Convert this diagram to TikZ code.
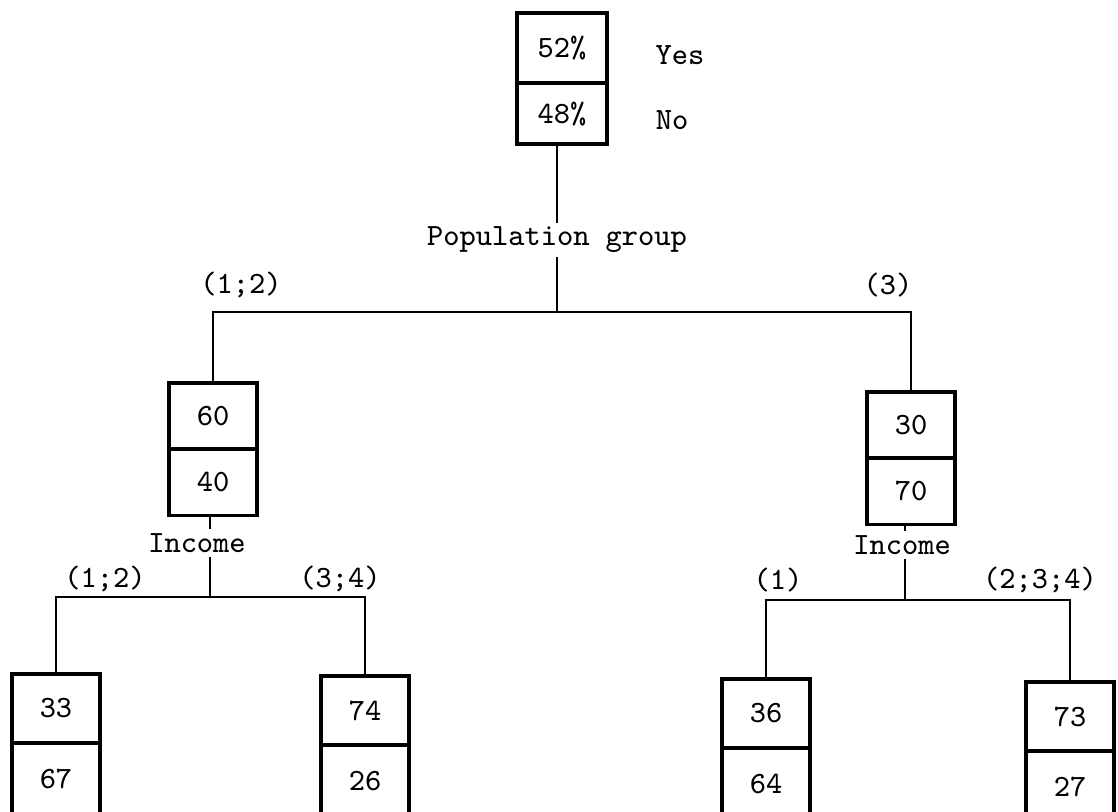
\documentclass[tikz,border=0pt]{standalone}
\usepackage{tikz}
\usetikzlibrary{positioning}

\newcommand{\tyfont}{\fontsize{8.8}{10}\selectfont\ttfamily}

\tikzset{
  cell/.style={draw, line width=0.9pt, minimum width=0.88cm, minimum height=0.66cm,
               inner sep=0pt, outer sep=0pt, font=\tyfont},
  lbl/.style={font=\tyfont, inner sep=1pt},
  link/.style={line width=0.7pt}
}

\begin{document}
\begin{tikzpicture}[x=0.01cm, y=-0.01cm]
    % Frame of the page
    \useasboundingbox (0,0) rectangle (1118,812);

    % Root box
    \node[cell, anchor=north, minimum width=0.9cm, minimum height=0.70cm] (topY) at (562,13) {52\%};
    \node[cell, below=0pt of topY, minimum width=0.9cm, minimum height=0.61cm] (topN) {48\%};
    \node[lbl] (yes) at (680,55) {Yes};
    \node[lbl] (no) at (672,120) {No};

    % First split
    \node[lbl] (pop) at (557,240) {Population group};
    \coordinate (popj) at (557,312);

    \node[cell, anchor=north] (Lhi) at (213,383) {60};
    \node[cell, below=0pt of Lhi] (Llo) {40};
    \node[cell, anchor=north] (Rhi) at (911,392) {30};
    \node[cell, below=0pt of Rhi] (Rlo) {70};

    \draw[link] (topN.south -| pop.north) -- (pop.north);
    \draw[link] (pop.south) -- (popj);
    \draw[link] (Lhi.north) |- (popj) -| (Rhi.north);
    \node[lbl] at (241,285) {(1;2)};
    \node[lbl] at (888,285) {(3)};

    % Second split (income)
    \node[lbl] (incL) at (197,543) {Income};
    \node[lbl] (incR) at (902,545) {Income};
    \coordinate (jL) at (210,597);
    \coordinate (jR) at (905,600);

    % Leaf boxes
    \foreach \n/\x/\y/\a/\b in {LL/56/674/33/67, LR/365/676/74/26,
                                RL/766/679/36/64, RR/1070/682/73/27} {
      \node[cell, anchor=north, minimum height=0.69cm] (\n hi) at (\x,\y) {\a};
      \node[cell, below=0pt of \n hi, minimum height=0.72cm] (\n lo) {\b};
    }

    \draw[link] (Llo.south -| jL) -- (jL |- incL.north);
    \draw[link] (jL |- incL.south) -- (jL);
    \draw[link] (LLhi.north) |- (jL) -| (LRhi.north);
    \node[lbl] at (105,579) {(1;2)};
    \node[lbl] at (340,579) {(3;4)};

    \draw[link] (Rlo.south -| jR) -- (jR |- incR.north);
    \draw[link] (jR |- incR.south) -- (jR);
    \draw[link] (RLhi.north) |- (jR) -| (RRhi.north);
    \node[lbl] at (778,580) {(1)};
    \node[lbl] at (1040,580) {(2;3;4)};
  \end{tikzpicture}
\end{document}
